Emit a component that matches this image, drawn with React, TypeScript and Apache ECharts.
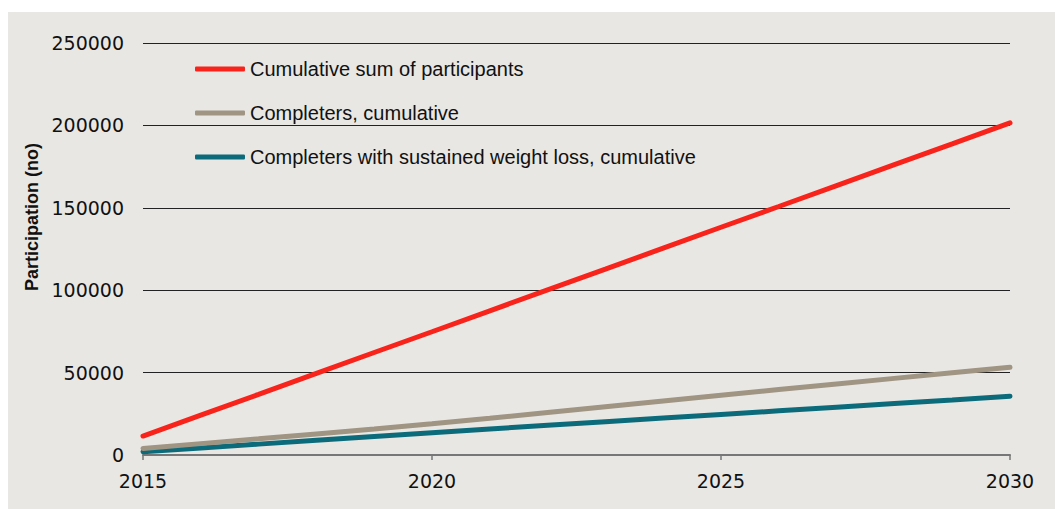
import React, { useEffect, useRef } from "react";
import * as echarts from "echarts";

const years = [2015, 2016, 2017, 2018, 2019, 2020, 2021, 2022, 2023, 2024, 2025, 2026, 2027, 2028, 2029, 2030];
const participants = [11500, 24200, 36800, 49500, 62200, 74800, 87500, 100200, 112800, 125500, 138200, 150800, 163500, 176200, 188800, 201500];
const completers = [4000, 6900, 9800, 12800, 15800, 18900, 22300, 25800, 29300, 32800, 36300, 39700, 43100, 46500, 49900, 53200];
const sustained = [2000, 4300, 6600, 8900, 11200, 13500, 15800, 18000, 20200, 22400, 24600, 26800, 29000, 31200, 33400, 35700];
const seriesNames = [
  "Cumulative sum of participants",
  "Completers, cumulative",
  "Completers with sustained weight loss, cumulative",
];
const seriesColors = ["#F8241B", "#A09483", "#0B6B7A"];
const yAxisName = "Participation (no)";

export default function App() {
  const ref = useRef<HTMLDivElement>(null);
  useEffect(() => {
    if (!ref.current) return;
    const chart = echarts.init(ref.current, null, { renderer: "svg" });
    const dataSets = [participants, completers, sustained];
    chart.setOption({
      animation: false,
      backgroundColor: "transparent",
      grid: { left: 135, right: 45, top: 31, bottom: 54 },
      legend: {
        orient: "vertical",
        left: 187,
        top: 46,
        padding: 0,
        itemWidth: 50,
        itemHeight: 5,
        itemGap: 22,
        icon: "roundRect",
        textStyle: { fontFamily: "Liberation Sans", fontSize: 20, color: "#111", lineHeight: 22 },
        data: seriesNames,
      },
      xAxis: {
        type: "value",
        min: 2015,
        max: 2030,
        interval: 5,
        axisLine: { show: true, lineStyle: { color: "#777", width: 2 } },
        axisTick: { show: true, length: 5, lineStyle: { color: "#777", width: 1.5 } },
        splitLine: { show: false },
        axisLabel: {
          fontFamily: "DejaVu Sans",
          fontSize: 19,
          color: "#111",
          margin: 16,
          formatter: (v: number) => String(v),
        },
      },
      yAxis: {
        type: "value",
        min: 0,
        max: 250000,
        interval: 50000,
        axisLine: { show: false },
        axisTick: { show: false },
        splitLine: { show: true, lineStyle: { color: "#222", width: 1 } },
        axisLabel: {
          fontFamily: "DejaVu Sans",
          fontSize: 19,
          color: "#111",
          margin: 19,
          formatter: (v: number) => String(v),
        },
      },
      graphic: [
        {
          type: "text",
          x: 24,
          y: 205,
          rotation: Math.PI / 2,
          style: {
            text: yAxisName,
            fontFamily: "Liberation Sans",
            fontWeight: "bold",
            fontSize: 18,
            fill: "#111",
            textAlign: "center",
            textVerticalAlign: "middle",
          },
        },
      ],
      series: dataSets.map((d, i) => ({
        name: seriesNames[i],
        type: "line",
        symbol: "none",
        data: years.map((y, j) => [y, d[j]]),
        lineStyle: { color: seriesColors[i], width: 5, cap: "round" },
        itemStyle: { color: seriesColors[i] },
        z: 3 + (2 - i),
      })),
    });
    return () => chart.dispose();
  }, []);
  return (
    <div style={{ position: "fixed", left: 0, top: 0, width: 1055, height: 509, background: "#fff" }}>
      <div
        style={{ position: "absolute", left: 8, top: 12, width: 1047, height: 497, background: "#E8E7E3" }}
      >
        <div ref={ref} style={{ width: 1047, height: 497 }} />
      </div>
    </div>
  );
}
